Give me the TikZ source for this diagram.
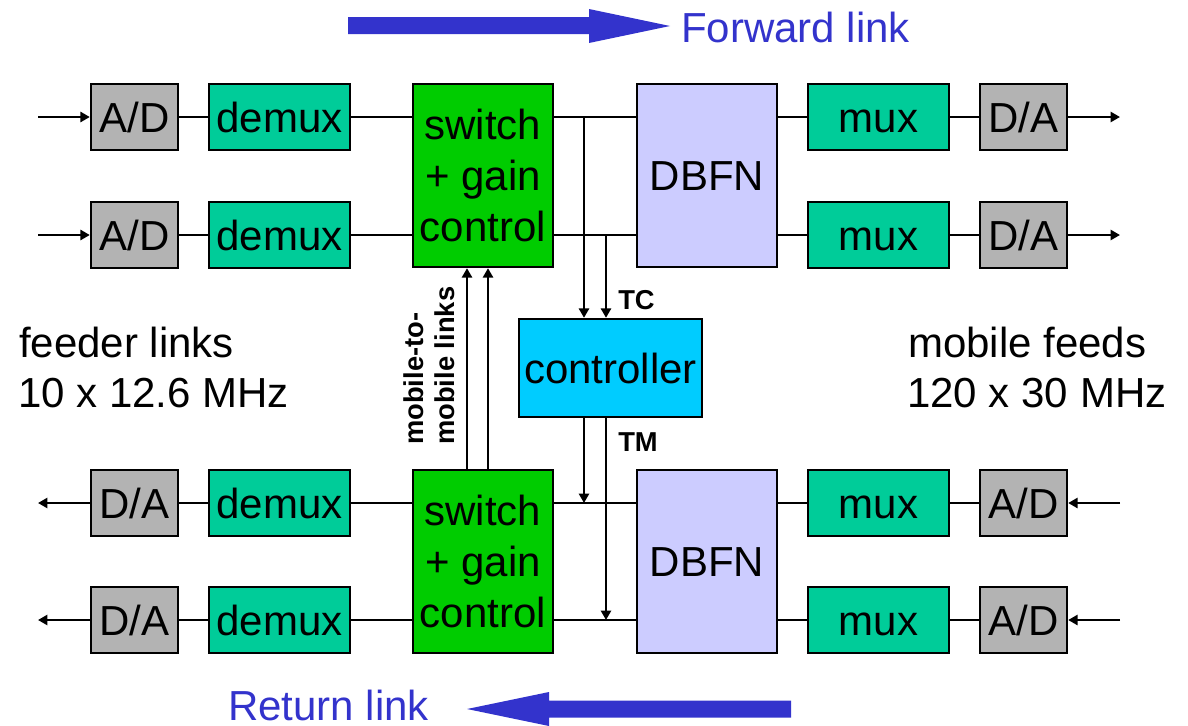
\documentclass[tikz,border=0pt]{standalone}
\usepackage{fontspec}
\setmainfont{Liberation Sans}
\usetikzlibrary{arrows.meta}
\definecolor{adgray}{HTML}{B3B3B3}
\definecolor{muxgreen}{HTML}{00CC99}
\definecolor{swgreen}{HTML}{00CC00}
\definecolor{dbfnblue}{HTML}{CCCCFF}
\definecolor{ctlcyan}{HTML}{00CCFF}
\definecolor{linkblue}{HTML}{3333CC}
\begin{document}
\begin{tikzpicture}[x=0.75pt,y=-0.75pt,
  box/.style={draw=black, line width=1.8pt, inner sep=0pt, align=center,
    font=\fontsize{31.5}{38}\selectfont},
  oneline/.style={text height=23pt, text depth=0pt},
  adbox/.style={box, oneline, fill=adgray, minimum width=87*0.75pt, minimum height=66*0.75pt},
  muxbox/.style={box, oneline, fill=muxgreen, minimum width=141*0.75pt, minimum height=66*0.75pt},
  swbox/.style={box, fill=swgreen, minimum width=140*0.75pt, minimum height=183*0.75pt},
  dbbox/.style={box, oneline, fill=dbfnblue, minimum width=140*0.75pt, minimum height=183*0.75pt},
  ctlbox/.style={box, oneline, fill=ctlcyan, minimum width=183*0.75pt, minimum height=98*0.75pt},
  wire/.style={line width=1.8pt},
  arr/.style={wire, -{Triangle[length=7pt,width=7.5pt]}},
  txt/.style={inner sep=0pt, font=\fontsize{31.5}{38}\selectfont},
  lab/.style={inner sep=0pt, font=\bfseries\fontsize{20.5}{23.5}\selectfont},
  bigarrow/.style={fill=linkblue, draw=none}]
\useasboundingbox (0,0) rectangle (1188,725);

% big direction arrows
\fill[bigarrow] (348,17) -- (589,17) -- (589,9) -- (670,26) -- (589,43) -- (589,34) -- (348,34) -- cycle;
\node[txt, text=linkblue, anchor=base west] (fwd) at (681,42) {Forward link};
\fill[bigarrow] (791,700.5) -- (549,700.5) -- (549,692) -- (467,709) -- (549,726) -- (549,717.5) -- (791,717.5) -- cycle;
\node[txt, text=linkblue, anchor=base west] (ret) at (228,720) {Return link};

% forward link chain
\node[adbox] (adA) at (134.5,117) {A/D};
\node[muxbox] (dmA) at (279.5,117) {demux};
\node[adbox] (adB) at (134.5,235) {A/D};
\node[muxbox] (dmB) at (279.5,235) {demux};
\node[swbox] (swT) at (483,175.5) {switch\\+ gain\\control};
\node[dbbox] (dbT) at (707,175.5) {DBFN};
\node[muxbox] (mxA) at (878.5,117) {mux};
\node[adbox] (daA) at (1023.5,117) {D/A};
\node[muxbox] (mxB) at (878.5,235) {mux};
\node[adbox] (daB) at (1023.5,235) {D/A};

% return link chain
\node[adbox] (daC) at (134.5,503) {D/A};
\node[muxbox] (dmC) at (279.5,503) {demux};
\node[adbox] (daD) at (134.5,620) {D/A};
\node[muxbox] (dmD) at (279.5,620) {demux};
\node[swbox] (swL) at (483,561.5) {switch\\+ gain\\control};
\node[dbbox] (dbL) at (707,561.5) {DBFN};
\node[muxbox] (mxC) at (878.5,503) {mux};
\node[adbox] (adC) at (1023.5,503) {A/D};
\node[muxbox] (mxD) at (878.5,620) {mux};
\node[adbox] (adD) at (1023.5,620) {A/D};

% controller
\node[ctlbox] (ctl) at (610.5,368) {controller};

% free ends
\coordinate (inA) at (38,117);
\coordinate (inB) at (38,235);
\coordinate (outC) at (38,503);
\coordinate (outD) at (38,620);
\coordinate (oA) at (1120,117);
\coordinate (oB) at (1120,235);
\coordinate (iC) at (1120,503);
\coordinate (iD) at (1120,620);
\coordinate (tA) at (584,117);
\coordinate (tB) at (606,235);
\coordinate (m1) at (467,470);
\coordinate (m2) at (488,470);

% forward rows
\draw[arr] (inA) -- (adA);
\draw[wire] (adA) -- (dmA);
\draw[wire] (dmA.east) -- (dmA.east -| swT.west);
\draw[wire] (swT.east |- dmA) -- (dbT.west |- dmA);
\draw[wire] (dbT.east |- mxA) -- (mxA.west);
\draw[wire] (mxA) -- (daA);
\draw[arr] (daA) -- (oA);

\draw[arr] (inB) -- (adB);
\draw[wire] (adB) -- (dmB);
\draw[wire] (dmB.east) -- (dmB.east -| swT.west);
\draw[wire] (swT.east |- dmB) -- (dbT.west |- dmB);
\draw[wire] (dbT.east |- mxB) -- (mxB.west);
\draw[wire] (mxB) -- (daB);
\draw[arr] (daB) -- (oB);

% return rows
\draw[arr] (daC) -- (outC);
\draw[wire] (dmC) -- (daC);
\draw[wire] (dmC.east) -- (dmC.east -| swL.west);
\draw[wire] (swL.east |- dmC) -- (dbL.west |- dmC);
\draw[wire] (dbL.east |- mxC) -- (mxC.west);
\draw[wire] (mxC) -- (adC);
\draw[arr] (iC) -- (adC);

\draw[arr] (daD) -- (outD);
\draw[wire] (dmD) -- (daD);
\draw[wire] (dmD.east) -- (dmD.east -| swL.west);
\draw[wire] (swL.east |- dmD) -- (dbL.west |- dmD);
\draw[wire] (dbL.east |- mxD) -- (mxD.west);
\draw[wire] (mxD) -- (adD);
\draw[arr] (iD) -- (adD);

% controller links
\draw[arr] (tA) -- (tA |- ctl.north);
\draw[arr] (tB) -- (tB |- ctl.north);
\draw[arr] (ctl.south -| tA) -- (tA |- dmC);
\draw[arr] (ctl.south -| tB) -- (tB |- dmD);

% mobile-to-mobile links
\draw[arr] (m1) -- (m1 |- swT.south);
\draw[arr] (m2) -- (m2 |- swT.south);

% labels
\node[lab, anchor=west] (tc) at (618,300) {TC};
\node[lab, anchor=west] (tm) at (618,442) {TM};
\node[lab, rotate=90, anchor=south west, align=left] (m2m) at (455,445) {mobile-to-\\mobile links};

\node[txt, anchor=base west] (fl1) at (19,357) {feeder links};
\node[txt, anchor=base west] (fl2) at (18,407) {10 x 12.6 MHz};
\node[txt, anchor=base west] (mf1) at (908,357) {mobile feeds};
\node[txt, anchor=base west] (mf2) at (907,407) {120 x 30 MHz};
\end{tikzpicture}
\end{document}
